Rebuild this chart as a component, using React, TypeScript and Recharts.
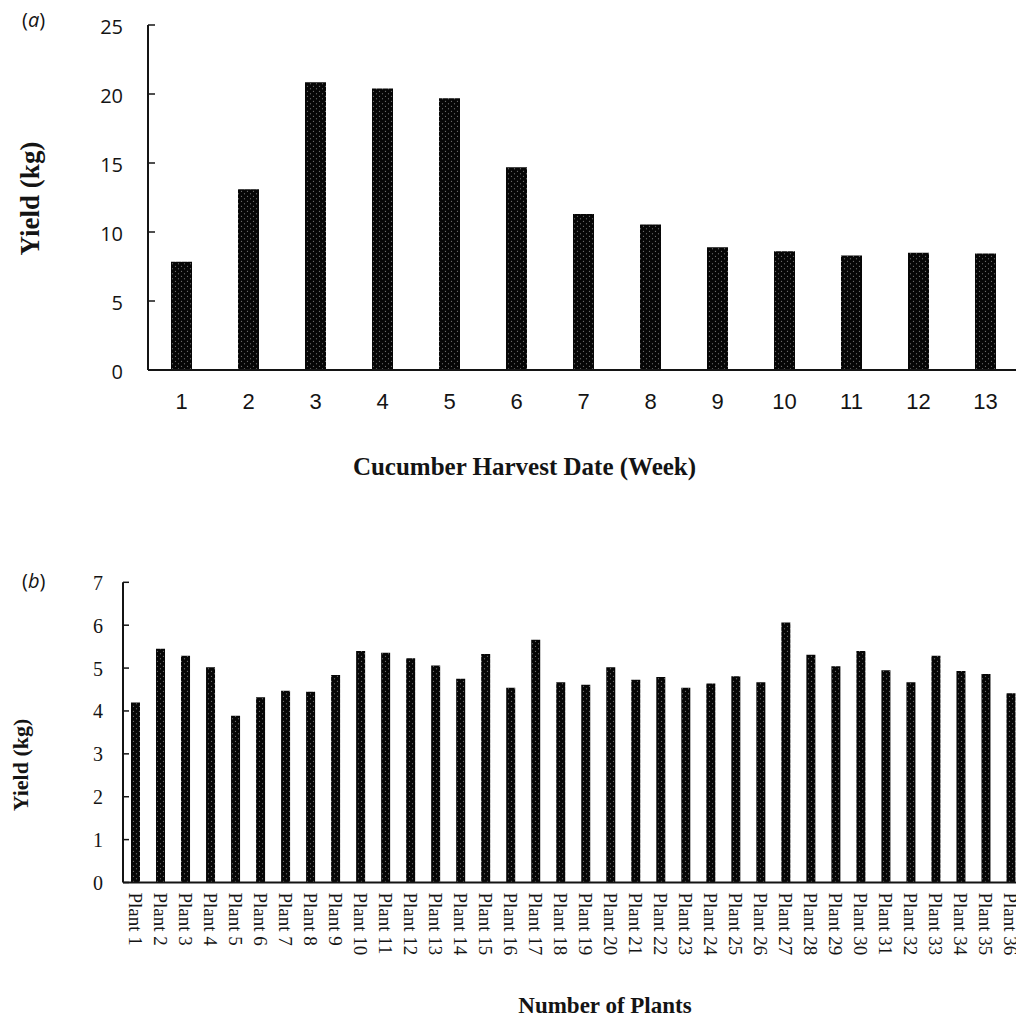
import React from 'react'
import { BarChart, Bar, XAxis, YAxis } from 'recharts'

// (a) weekly harvest
const weeks = ['1', '2', '3', '4', '5', '6', '7', '8', '9', '10', '11', '12', '13']
const weeklyYield = [7.85, 13.1, 20.85, 20.4, 19.7, 14.7, 11.3, 10.55, 8.9, 8.6, 8.3, 8.5, 8.45]
const weekYTicks = [0, 5, 10, 15, 20, 25]

// (b) per plant
const plants = Array.from({ length: 36 }, (_, i) => `Plant ${i + 1}`)
const plantYield = [
  4.2, 5.45, 5.29, 5.02, 3.89, 4.32, 4.47, 4.45, 4.84, 5.4, 5.36, 5.23,
  5.06, 4.75, 5.33, 4.54, 5.66, 4.67, 4.61, 5.02, 4.73, 4.79, 4.54, 4.64,
  4.81, 4.67, 6.06, 5.31, 5.04, 5.4, 4.95, 4.67, 5.29, 4.93, 4.86, 4.41,
]
const plantYTicks = [0, 1, 2, 3, 4, 5, 6, 7]

const weekData = weeks.map((w, i) => ({ week: w, yield: weeklyYield[i] }))
const plantData = plants.map((p, i) => ({ plant: p, yield: plantYield[i] }))

const serif = "'Liberation Serif', 'Times New Roman', serif"
const sans = "'Liberation Sans', Arial, sans-serif"
const ink = '#141414'

const Dots = ({ id }: { id: string }) => (
  <defs>
    <pattern id={id} width="6" height="5" patternUnits="userSpaceOnUse">
      <rect width="6" height="5" fill="#060606" />
      <circle cx="1.5" cy="1.25" r="0.6" fill="#8c8c8c" />
      <circle cx="4.5" cy="3.75" r="0.6" fill="#8c8c8c" />
    </pattern>
  </defs>
)

const WeekTick = ({ x, y, payload }: any) => (
  <text x={x} y={y + 39} textAnchor="middle" fontFamily={sans} fontSize={22} fill={ink}>
    {payload.value}
  </text>
)

const WeekYTick = ({ x, y, payload }: any) => (
  <text x={x} y={y + 8.5} textAnchor="end" fontFamily="'Open Sans', sans-serif" fontSize={20} fill={ink}>
    {payload.value}
  </text>
)

const PlantTick = ({ x, y, payload }: any) => (
  <text
    transform={`translate(${x},${y + 10}) rotate(90)`}
    x={0}
    y={7}
    textAnchor="start"
    fontFamily={serif}
    fontSize={19}
    fill={ink}
  >
    {payload.value}
  </text>
)

const PlantYTick = ({ x, y, payload }: any) => (
  <text x={x} y={y + 7.5} textAnchor="end" fontFamily={serif} fontSize={20} fill={ink}>
    {payload.value}
  </text>
)

export default function App() {
  return (
    <div
      style={{
        position: 'absolute',
        left: 0,
        top: 0,
        width: 1016,
        height: 1017,
        overflow: 'hidden',
        background: '#fff',
      }}
    >
      <div style={{ position: 'absolute', left: 0, top: 0 }}>
        <BarChart width={1040} height={440} data={weekData} margin={{ top: 25, right: 21, bottom: 0, left: 0 }}>
          <Dots id="dotsA" />
          <XAxis
            dataKey="week"
            height={70}
            interval={0}
            tickSize={0}
            tickMargin={0}
            tickLine={false}
            axisLine={{ stroke: ink, strokeWidth: 2 }}
            tick={<WeekTick />}
          />
          <YAxis
            width={148}
            domain={[0, 25]}
            ticks={weekYTicks}
            tickSize={-7}
            tickMargin={32}
            axisLine={{ stroke: ink, strokeWidth: 2 }}
            tickLine={{ stroke: ink, strokeWidth: 1.5 }}
            tick={<WeekYTick />}
          />
          <Bar dataKey="yield" fill="url(#dotsA)" barSize={21} isAnimationActive={false} />
        </BarChart>
      </div>

      <div style={{ position: 'absolute', left: 0, top: 540 }}>
        <BarChart width={1040} height={477} data={plantData} margin={{ top: 42.3, right: 16.5, bottom: 0, left: 0 }}>
          <Dots id="dotsB" />
          <XAxis
            dataKey="plant"
            height={134.5}
            interval={0}
            tickSize={0}
            tickMargin={0}
            tickLine={false}
            axisLine={{ stroke: ink, strokeWidth: 2 }}
            tick={<PlantTick />}
          />
          <YAxis
            width={123}
            domain={[0, 7]}
            ticks={plantYTicks}
            tickSize={-6}
            tickMargin={26}
            axisLine={{ stroke: ink, strokeWidth: 2 }}
            tickLine={{ stroke: ink, strokeWidth: 1.5 }}
            tick={<PlantYTick />}
          />
          <Bar dataKey="yield" fill="url(#dotsB)" barSize={9} isAnimationActive={false} />
        </BarChart>
      </div>

      {/* panel letters and axis titles */}
      <svg width={1016} height={1017} style={{ position: 'absolute', left: 0, top: 0, pointerEvents: 'none' }}>
        <text x={22} y={27} fontFamily="'Open Sans', sans-serif" fontSize={20} fill={ink}>
          (<tspan fontStyle="italic">a</tspan>)
        </text>
        <text
          transform="translate(39.2,198.5) rotate(-90)"
          textAnchor="middle"
          fontFamily={serif}
          fontWeight="bold"
          fontSize={27}
          fill={ink}
        >
          Yield (kg)
        </text>
        <text x={524.5} y={475} textAnchor="middle" fontFamily={serif} fontWeight="bold" fontSize={25} fill={ink}>
          Cucumber Harvest Date (Week)
        </text>

        <text x={22} y={588} fontFamily="'Open Sans', sans-serif" fontSize={20} fill={ink}>
          (<tspan fontStyle="italic">b</tspan>)
        </text>
        <text
          transform="translate(28.2,765) rotate(-90)"
          textAnchor="middle"
          fontFamily={serif}
          fontWeight="bold"
          fontSize={22}
          fill={ink}
        >
          Yield (kg)
        </text>
        <text x={605} y={1013} textAnchor="middle" fontFamily={serif} fontWeight="bold" fontSize={23} fill={ink}>
          Number of Plants
        </text>
      </svg>
    </div>
  )
}
